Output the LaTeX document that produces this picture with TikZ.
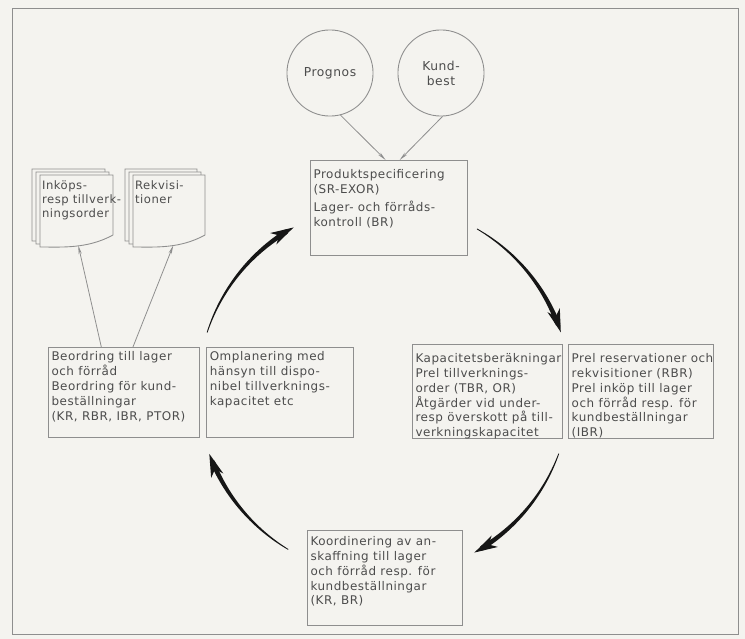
\documentclass[tikz,border=0pt]{standalone}
\usepackage{fontspec}
\setmainfont{DejaVu Sans}[LetterSpace=4.5]
\usetikzlibrary{arrows.meta, positioning, calc}
\definecolor{paperbg}{HTML}{F4F3EF}
\definecolor{inkgray}{HTML}{4C4C4C}
\definecolor{linegray}{HTML}{8E8E8E}
\definecolor{arcblack}{HTML}{161616}
\tikzset{
  box/.style={draw=linegray, line width=0.5pt, anchor=north west, inner sep=0pt},
  boxtext/.style={anchor=north west, align=left, text=inkgray,
              font=\fontsize{6.8}{8.5}\selectfont,
              inner xsep=1.8pt, inner ysep=3.3pt},
  docframe/.style={anchor=north west, inner sep=0pt},
  doctext/.style={boxtext, inner xsep=1pt, inner ysep=2.8pt,
              font=\fontsize{6.6}{8}\selectfont},
  circ/.style={circle, draw=linegray, line width=0.5pt, minimum size=49pt,
              inner sep=0pt, align=center, text=inkgray,
              font=\fontsize{7}{8.5}\selectfont},
  page/.style={draw=linegray, line width=0.5pt, fill=paperbg},
  thinarrow/.style={-{Stealth[length=5pt, width=1.8pt]}, draw=linegray,
              line width=0.45pt},
  cyclearrow/.style={-{Stealth[length=13pt, width=7pt, inset=3.5pt]},
              line width=2.6pt, draw=arcblack},
}
% one sheet of a document stack: x, y of top left corner, width
\newcommand\sheet[3]{%
  \draw[page] (#1,#2) -- (#1+#3,#2) -- (#1+#3,#2+60)
    .. controls (#1+0.65*#3,#2+74) and (#1+0.3*#3,#2+72) .. (#1,#2+72) -- cycle;}
% tapered part of the big cycle, from angle #1 to angle #2
\newcommand\cyclearc[2]{%
  \fill[arcblack, shift={(cyc)}]
    plot[domain=#1:#2-3, samples=30]
      ({(186+0.4+2.2*(\x-#1)/(#2-#1))*cos(\x)}, {(186+0.4+2.2*(\x-#1)/(#2-#1))*sin(\x)})
    -- plot[domain=#2-3:#1, samples=30]
      ({(186-0.4-2.2*(\x-#1)/(#2-#1))*cos(\x)}, {(186-0.4-2.2*(\x-#1)/(#2-#1))*sin(\x)})
    -- cycle;
  \draw[cyclearrow] ([shift={({#2-4}:186)}]cyc) arc[start angle=#2-4, end angle=#2, radius=186];}

\begin{document}
\begin{tikzpicture}[x=0.02cm, y=-0.02cm]
  \fill[paperbg] (0,0) rectangle (745,639);
  \useasboundingbox (0,0) rectangle (745,639);
  \draw[linegray, line width=0.5pt] (12,8) rectangle (738,634);

  % sources
  \node[circ] (prognos) at (330,73) {Prognos};
  \node[circ] (kundbest) at (441,73) {Kund-\\best};

  % the cycle
  \node[box, minimum width=89.6pt, minimum height=53.9pt] (spec) at (310,160) {};
  \node[boxtext, inner ysep=5pt] at (spec.north west)
    {Produktspecificering\\(SR-EXOR)\\[2pt]Lager- och förråds-\\kontroll (BR)};
  \node[box, minimum width=85.6pt, minimum height=53.3pt] (kapac) at (412,344) {};
  \node[boxtext, inner ysep=5pt] at (kapac.north west)
    {Kapacitetsberäkningar\\Prel tillverknings-\\order (TBR, OR)\\Åtgärder vid under-\\resp överskott på till-\\verkningskapacitet};
  \node[box, minimum width=82.2pt, minimum height=53.3pt, right=2.8pt of kapac] (prel) {};
  \node[boxtext, inner ysep=5pt] at (prel.north west)
    {Prel reservationer och\\rekvisitioner (RBR)\\Prel inköp till lager\\och förråd resp. för\\kundbeställningar\\(IBR)};
  \node[box, minimum width=88.4pt, minimum height=53.9pt] (koord) at (307,530) {};
  \node[boxtext] at (koord.north west)
    {Koordinering av an-\\skaffning till lager\\och förråd resp. för\\kundbeställningar\\(KR, BR)};
  \node[box, minimum width=86.2pt, minimum height=51pt] (beord) at (48,347) {};
  \node[boxtext, inner ysep=2.2pt] at (beord.north west)
    {Beordring till lager\\och förråd\\Beordring för kund-\\beställningar\\(KR, RBR, IBR, PTOR)};
  \node[box, minimum width=83.3pt, minimum height=51pt, right=3.4pt of beord] (ompl) {};
  \node[boxtext, inner ysep=2.2pt] at (ompl.north west)
    {Omplanering med\\hänsyn till dispo-\\nibel tillverknings-\\kapacitet etc};

  % document stacks
  \foreach \dx in {8,4,0} {
    \sheet{40-\dx}{175-0.75*\dx}{73}
    \sheet{133-\dx}{175-0.75*\dx}{72}
  }
  \node[docframe, minimum width=41.4pt, minimum height=39.7pt] (inkop) at (40,175) {};
  \node[doctext] at (inkop.north west) {Inköps-\\resp tillverk-\\ningsorder};
  \node[docframe, minimum width=40.8pt, minimum height=39.7pt] (rekv) at (133,175) {};
  \node[doctext] at (rekv.north west) {Rekvisi-\\tioner};

  \draw[thinarrow] (prognos.-76) -- ([xshift=-2pt]spec.north);
  \draw[thinarrow] (kundbest.-88) -- ([xshift=6pt]spec.north);
  \draw[thinarrow] ([xshift=-13pt]beord.north) -- ([xshift=0.9pt]inkop.south);
  \draw[thinarrow] ([xshift=5pt]beord.north) -- ([xshift=2.3pt]rekv.south);

  \coordinate (cyc) at (384,390);
  \cyclearc{198}{241}
  \cyclearc{300}{342}
  \cyclearc{20}{61}
  \cyclearc{121}{160}
\end{tikzpicture}
\end{document}
